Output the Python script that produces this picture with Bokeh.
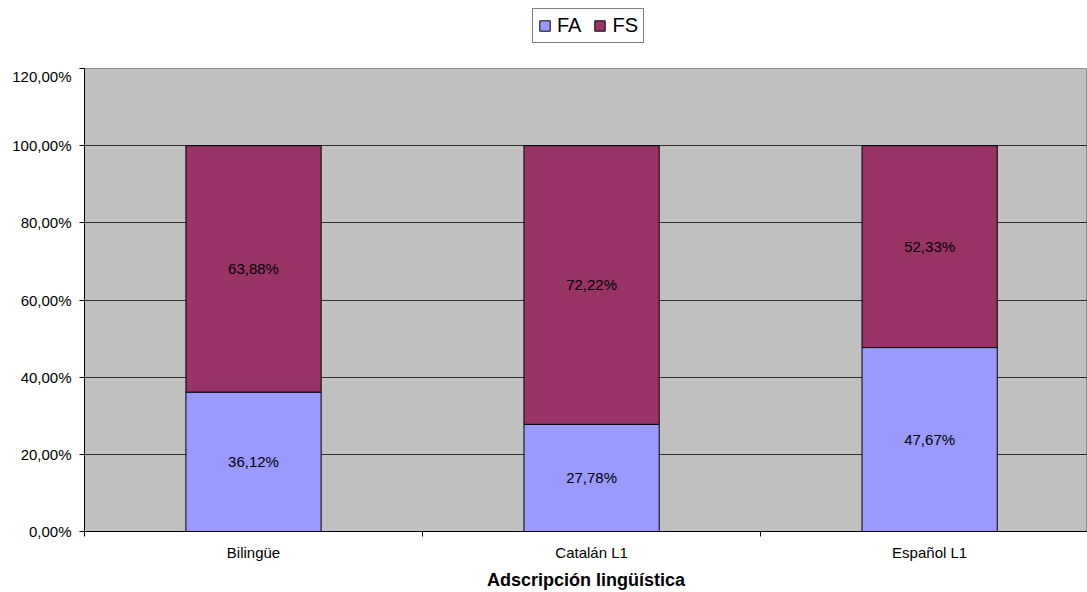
from bokeh.plotting import figure
from bokeh.layouts import column
from bokeh.models import ColumnDataSource, FixedTicker, Legend, LegendItem, LabelSet
from bokeh.core.properties import value
from bokeh.embed import file_html
from bokeh.resources import INLINE

categories = ["Bilingüe", "Catalán L1", "Español L1"]
fa = [36.12, 27.78, 47.67]
fs = [63.88, 72.22, 52.33]
series = ["FA", "FS"]
colors = ["#9999FF", "#993366"]
y_ticks = [0, 20, 40, 60, 80, 100, 120]

def fmt(v):
    return ("%.2f" % v).replace(".", ",") + "%"

xs = [i + 0.5 for i in range(len(categories))]
src = ColumnDataSource(dict(
    x=xs, fa=fa, fs=fs, top=[a + b for a, b in zip(fa, fs)],
    fa_mid=[a / 2 for a in fa], fs_mid=[a + b / 2 for a, b in zip(fa, fs)],
    fa_lab=[fmt(v) for v in fa], fs_lab=[fmt(v) for v in fs],
))

FONT = "Liberation Sans"

# ---- legend strip on top (its own proxy bars lie outside its visible range) ----
lg = figure(width=1087, height=67, output_backend="svg", toolbar_location=None,
            x_axis_type=None, y_axis_type=None, x_range=(-10, -9), y_range=(-10, -9),
            min_border=0, outline_line_color=None)
lg.background_fill_color = "white"
lr = [lg.vbar(x="x", top=col, width=0.4, source=src, fill_color=c, line_color="black")
      for col, c in zip(["fa", "fs"], colors)]
legend = Legend(items=[LegendItem(label=s, renderers=[r]) for s, r in zip(series, lr)],
                orientation="horizontal", location=(448, 24),
                label_text_font=FONT, label_text_font_size="20px", label_text_color="black",
                glyph_width=13, glyph_height=13, label_standoff=6, spacing=12,
                padding=5, margin=0, border_line_color="black", border_line_width=1,
                background_fill_color="white", label_height=20)
lg.add_layout(legend, "center")

# ---- main chart ----
p = figure(width=1087, height=525, output_backend="svg", toolbar_location=None,
           x_range=(0, 2.967), y_range=(0, 120),
           min_border_left=84, min_border_right=0, min_border_top=1, min_border_bottom=0)
p.background_fill_color = "#C0C0C0"
p.border_fill_color = "white"
p.outline_line_color = "#909090"

r1 = p.vbar(x="x", bottom=0, top="fa", width=0.4, source=src,
            fill_color=colors[0], line_color="black", line_width=1)
r2 = p.vbar(x="x", bottom="fa", top="top", width=0.4, source=src,
            fill_color=colors[1], line_color="black", line_width=1)

lab_style = dict(text_font=value(FONT), text_font_size="15px", text_align="center",
                 text_baseline="middle", text_color="black")
p.add_layout(LabelSet(x="x", y="fa_mid", text="fa_lab", source=src, **lab_style))
p.add_layout(LabelSet(x="x", y="fs_mid", text="fs_lab", source=src, **lab_style))

p.xaxis.ticker = FixedTicker(ticks=xs, minor_ticks=[0, 1, 2, 3])
p.xaxis.major_label_overrides = {x: c for x, c in zip(xs, categories)}
p.xaxis.major_tick_out = 0
p.xaxis.major_tick_in = 0
p.xaxis.minor_tick_out = 5
p.xaxis.minor_tick_in = 0
p.xaxis.axis_label = "Adscripción lingüística"
p.xaxis.axis_label_text_font = FONT
p.xaxis.axis_label_text_font_style = "bold"
p.xaxis.axis_label_text_font_size = "18px"
p.xaxis.axis_label_text_color = "black"
p.xaxis.axis_label_standoff = 6
p.xaxis.major_label_standoff = 7

p.yaxis.ticker = FixedTicker(ticks=y_ticks, minor_ticks=[])
p.yaxis.major_label_overrides = {t: fmt(t) for t in y_ticks}
p.yaxis.major_tick_out = 5
p.yaxis.major_tick_in = 0
p.yaxis.major_label_standoff = 8

for ax in (p.xaxis, p.yaxis):
    ax.axis_line_color = "black"
    ax.major_tick_line_color = "black"
    ax.minor_tick_line_color = "black"
    ax.major_label_text_font = FONT
    ax.major_label_text_font_size = "15px"
    ax.major_label_text_color = "black"

p.xgrid.grid_line_color = None
p.ygrid.ticker = FixedTicker(ticks=y_ticks)
p.ygrid.grid_line_color = "#303030"
p.ygrid.grid_line_width = 1

layout = column(lg, p, spacing=0)
open("out.html", "w").write(file_html(layout, INLINE))
